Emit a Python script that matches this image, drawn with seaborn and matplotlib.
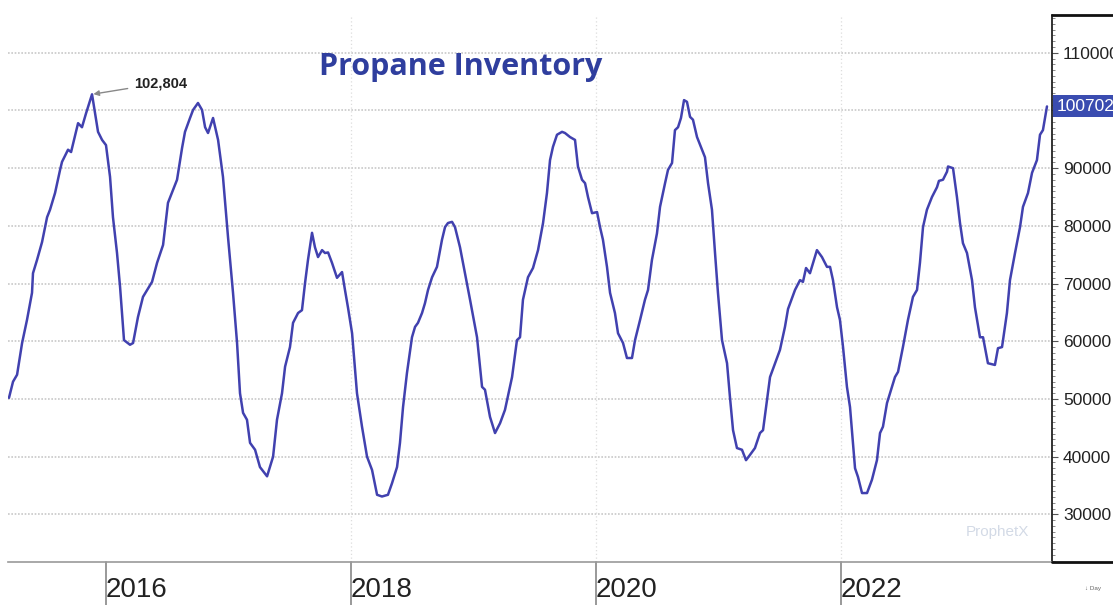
import numpy as np
import pandas as pd
import matplotlib.pyplot as plt
import matplotlib.ticker as mticker
import matplotlib.transforms as mtransforms
import seaborn as sns

# weekly propane inventory (decimal year, thousand barrels)
years = [
    2015.208, 2015.241, 2015.274, 2015.315, 2015.355, 2015.396, 2015.404, 2015.437, 2015.478, 2015.519,
    2015.543, 2015.584, 2015.625, 2015.641, 2015.690, 2015.715, 2015.739, 2015.772, 2015.804, 2015.837,
    2015.886, 2015.935, 2015.968, 2016.000, 2016.033, 2016.057, 2016.090, 2016.115, 2016.147, 2016.196,
    2016.221, 2016.261, 2016.302, 2016.376, 2016.417, 2016.466, 2016.506, 2016.547, 2016.580, 2016.621,
    2016.645, 2016.686, 2016.711, 2016.751, 2016.784, 2016.809, 2016.833, 2016.874, 2016.915, 2016.955,
    2016.996, 2017.037, 2017.070, 2017.094, 2017.119, 2017.151, 2017.176, 2017.217, 2017.257, 2017.315,
    2017.364, 2017.396, 2017.437, 2017.462, 2017.502, 2017.527, 2017.568, 2017.600, 2017.625, 2017.649,
    2017.682, 2017.706, 2017.731, 2017.764, 2017.788, 2017.813, 2017.845, 2017.886, 2017.927, 2017.951,
    2017.976, 2018.009, 2018.049, 2018.090, 2018.131, 2018.172, 2018.213, 2018.253, 2018.302, 2018.335,
    2018.376, 2018.400, 2018.425, 2018.457, 2018.498, 2018.523, 2018.547, 2018.580, 2018.604, 2018.629,
    2018.662, 2018.702, 2018.743, 2018.768, 2018.792, 2018.825, 2018.849, 2018.890, 2018.931, 2018.972,
    2019.029, 2019.070, 2019.094, 2019.135, 2019.176, 2019.217, 2019.257, 2019.315, 2019.355, 2019.380,
    2019.404, 2019.445, 2019.486, 2019.527, 2019.568, 2019.600, 2019.625, 2019.649, 2019.682, 2019.723,
    2019.747, 2019.788, 2019.829, 2019.853, 2019.886, 2019.911, 2019.935, 2019.968, 2020.009, 2020.033,
    2020.057, 2020.090, 2020.115, 2020.155, 2020.180, 2020.221, 2020.253, 2020.294, 2020.319, 2020.360,
    2020.400, 2020.425, 2020.457, 2020.498, 2020.523, 2020.564, 2020.588, 2020.621, 2020.645, 2020.670,
    2020.694, 2020.719, 2020.743, 2020.768, 2020.792, 2020.825, 2020.866, 2020.890, 2020.915, 2020.947,
    2020.972, 2020.996, 2021.029, 2021.070, 2021.094, 2021.119, 2021.151, 2021.192, 2021.225, 2021.257,
    2021.298, 2021.339, 2021.364, 2021.396, 2021.421, 2021.462, 2021.502, 2021.543, 2021.568, 2021.625,
    2021.666, 2021.690, 2021.715, 2021.747, 2021.804, 2021.845, 2021.886, 2021.911, 2021.935, 2021.968,
    2021.992, 2022.017, 2022.049, 2022.074, 2022.115, 2022.139, 2022.172, 2022.213, 2022.253, 2022.294,
    2022.319, 2022.343, 2022.376, 2022.417, 2022.441, 2022.466, 2022.506, 2022.547, 2022.588, 2022.621,
    2022.645, 2022.670, 2022.702, 2022.743, 2022.784, 2022.800, 2022.833, 2022.866, 2022.874, 2022.915,
    2022.947, 2022.972, 2022.996, 2023.029, 2023.070, 2023.094, 2023.135, 2023.160, 2023.200, 2023.257,
    2023.282, 2023.315, 2023.355, 2023.380, 2023.421, 2023.462, 2023.486, 2023.527, 2023.560, 2023.600,
    2023.625, 2023.649, 2023.682,
]
inventory_k = [
    50.2, 53.0, 54.2, 59.7, 63.7, 68.4, 71.8, 74.1, 77.2, 81.5,
    82.8, 85.7, 89.7, 91.1, 93.2, 92.8, 94.9, 97.8, 97.1, 99.5,
    102.804, 96.3, 94.9, 94.0, 88.5, 81.5, 75.3, 69.4, 60.2, 59.4,
    59.7, 64.2, 67.7, 70.3, 73.6, 76.7, 84.0, 86.2, 88.0, 93.5,
    96.3, 98.7, 100.1, 101.3, 100.1, 97.1, 96.1, 98.7, 94.9, 88.5,
    78.1, 68.4, 59.7, 51.0, 47.6, 46.4, 42.4, 41.2, 38.2, 36.6,
    40.0, 46.4, 51.0, 55.6, 59.0, 63.2, 64.9, 65.4, 70.1, 74.1,
    78.8, 76.3, 74.6, 75.8, 75.3, 75.4, 73.6, 71.0, 72.0, 68.9,
    65.8, 61.4, 51.0, 45.2, 40.0, 37.7, 33.4, 33.1, 33.4, 35.4,
    38.2, 42.4, 48.6, 54.5, 60.7, 62.5, 63.2, 64.9, 66.6, 68.9,
    71.1, 72.9, 77.6, 79.8, 80.5, 80.7, 79.8, 76.3, 71.8, 67.2,
    60.7, 52.1, 51.6, 46.9, 44.1, 45.8, 48.1, 53.8, 60.2, 60.7,
    67.2, 71.1, 72.7, 75.8, 80.5, 85.7, 91.4, 93.7, 95.8, 96.3,
    96.1, 95.4, 94.9, 90.3, 88.0, 87.4, 85.0, 82.2, 82.4, 79.8,
    77.6, 72.9, 68.4, 64.9, 61.4, 59.7, 57.1, 57.1, 60.2, 63.7,
    67.2, 68.9, 74.1, 78.7, 83.3, 87.4, 89.7, 90.9, 96.6, 97.1,
    98.7, 101.8, 101.5, 98.9, 98.4, 95.4, 93.2, 91.9, 87.4, 82.8,
    75.3, 68.4, 60.2, 56.2, 50.3, 44.6, 41.5, 41.2, 39.4, 40.3,
    41.5, 44.1, 44.6, 49.8, 53.8, 56.2, 58.5, 62.5, 65.6, 68.9,
    70.6, 70.3, 72.7, 71.8, 75.8, 74.6, 72.9, 72.9, 70.6, 65.9,
    63.7, 59.0, 52.1, 48.6, 38.0, 36.5, 33.7, 33.7, 36.0, 39.4,
    44.1, 45.2, 49.3, 52.1, 53.8, 54.7, 59.0, 63.7, 67.7, 68.9,
    73.6, 79.8, 82.8, 85.0, 86.7, 87.8, 88.0, 89.4, 90.3, 90.0,
    85.0, 80.5, 77.0, 75.3, 70.6, 65.9, 60.7, 60.7, 56.2, 55.9,
    58.8, 59.0, 64.9, 70.6, 75.3, 79.8, 83.3, 85.7, 89.2, 91.4,
    95.8, 96.6, 100.702,
]

peak_label = "102,804"
last_label = "100702"
label_years = [2016, 2018, 2020, 2022]
grid_years = [2018, 2020, 2022]

df = pd.DataFrame({"year": years, "inventory": np.array(inventory_k) * 1000})

line_color = "#4141AF"
grid_color = "#C8C8C8"

sns.set_style("white")
plt.rcParams["font.family"] = ["Liberation Sans", "DejaVu Sans"]

fig = plt.figure(figsize=(11.13, 6.05), dpi=100)
ax = fig.add_axes([8 / 1113, 43 / 605, 1044 / 1113, 547 / 605])

sns.lineplot(data=df, x="year", y="inventory", color=line_color, linewidth=1.8, ax=ax)

ax.set_xlim(2015.200, 2023.723)
ax.set_ylim(21750, 116550)
ax.set_xlabel("")
ax.set_ylabel("")

# right value axis (the 100000 label sits under the last-value box)
ax.yaxis.tick_right()
ax.yaxis.set_major_locator(mticker.MultipleLocator(10000))
ax.yaxis.set_minor_locator(mticker.MultipleLocator(1000))
ax.yaxis.set_major_formatter(
    mticker.FuncFormatter(lambda v, p: "" if int(v) == 100000 else f"{int(v)}"))
ax.tick_params(axis="y", which="major", length=4, width=0.8, color="#555555", pad=4,
               labelsize=12.5, labelcolor="#222222")
ax.tick_params(axis="y", which="minor", length=2.5, width=0.6, color="#777777")
for y in range(30000, 110001, 10000):
    ax.axhline(y, color=grid_color, linestyle=(0, (1, 1)), linewidth=1.2, zorder=0)
for x in grid_years:
    ax.axvline(x, color="#DDDDDD", linestyle=(0, (1, 2)), linewidth=0.9, zorder=0)

# time axis
ax.xaxis.set_major_locator(mticker.MultipleLocator(1))
ax.xaxis.set_minor_locator(mticker.MultipleLocator(1 / 24))
ax.xaxis.set_major_formatter(
    mticker.FuncFormatter(lambda v, p: f"{int(round(v))}" if int(round(v)) in label_years else ""))
ax.tick_params(axis="x", which="major", length=7, width=1.4, color="#888888", pad=4,
               labelsize=20, labelcolor="#222222")
ax.tick_params(axis="x", which="minor", length=5, width=0.7, color="#BBBBBB")
for lbl in ax.get_xticklabels():
    lbl.set_horizontalalignment("left")

# long separators in front of the year labels
trans = mtransforms.blended_transform_factory(ax.transData, ax.transAxes)
for x in label_years:
    ax.plot([x, x], [0, -0.08], transform=trans, color="#888888", linewidth=1.2, clip_on=False)

for side in ["top", "left"]:
    ax.spines[side].set_visible(False)
ax.spines["bottom"].set_color("#999999")
ax.spines["bottom"].set_linewidth(1.2)
ax.spines["right"].set_color("#111111")
ax.spines["right"].set_linewidth(1.2)

# frame of the price scale panel
fig.add_artist(plt.Line2D([1052 / 1113, 1], [1 - 15 / 605] * 2, color="#111111", linewidth=2))
fig.add_artist(plt.Line2D([1052 / 1113, 1], [43 / 605] * 2, color="#111111", linewidth=2))

# title, annotations
ax.text(0.434, 0.905, "Propane Inventory", transform=ax.transAxes, ha="center", va="center",
        fontsize=22, fontweight="bold", color="#2F3E9E", family=["Open Sans", "DejaVu Sans"])

peak_i = int(np.argmax(inventory_k))
ax.annotate(peak_label, xy=(years[peak_i], inventory_k[peak_i] * 1000), xytext=(30, 8),
            textcoords="offset points", ha="left", va="center", fontsize=10.5, fontweight="bold",
            color="#222222",
            arrowprops=dict(arrowstyle="-|>", color="#888888", linewidth=1, mutation_scale=8,
                            shrinkA=2, shrinkB=1))

ax.annotate(last_label, xy=(1, inventory_k[-1] * 1000), xycoords=("axes fraction", "data"),
            xytext=(3, 0), textcoords="offset points", ha="left", va="center",
            fontsize=12.5, color="white",
            bbox=dict(boxstyle="square,pad=0.2", fc="#3A4CB0", ec="none"))

ax.text(0.948, 0.055, "ProphetX", transform=ax.transAxes, ha="center", va="center",
        fontsize=11, color="#D3DAE6")
fig.text(0.982, 0.028, "↓ Day", ha="center", va="center", fontsize=4.5, color="#666666")

plt.savefig("out.png", dpi=100)
